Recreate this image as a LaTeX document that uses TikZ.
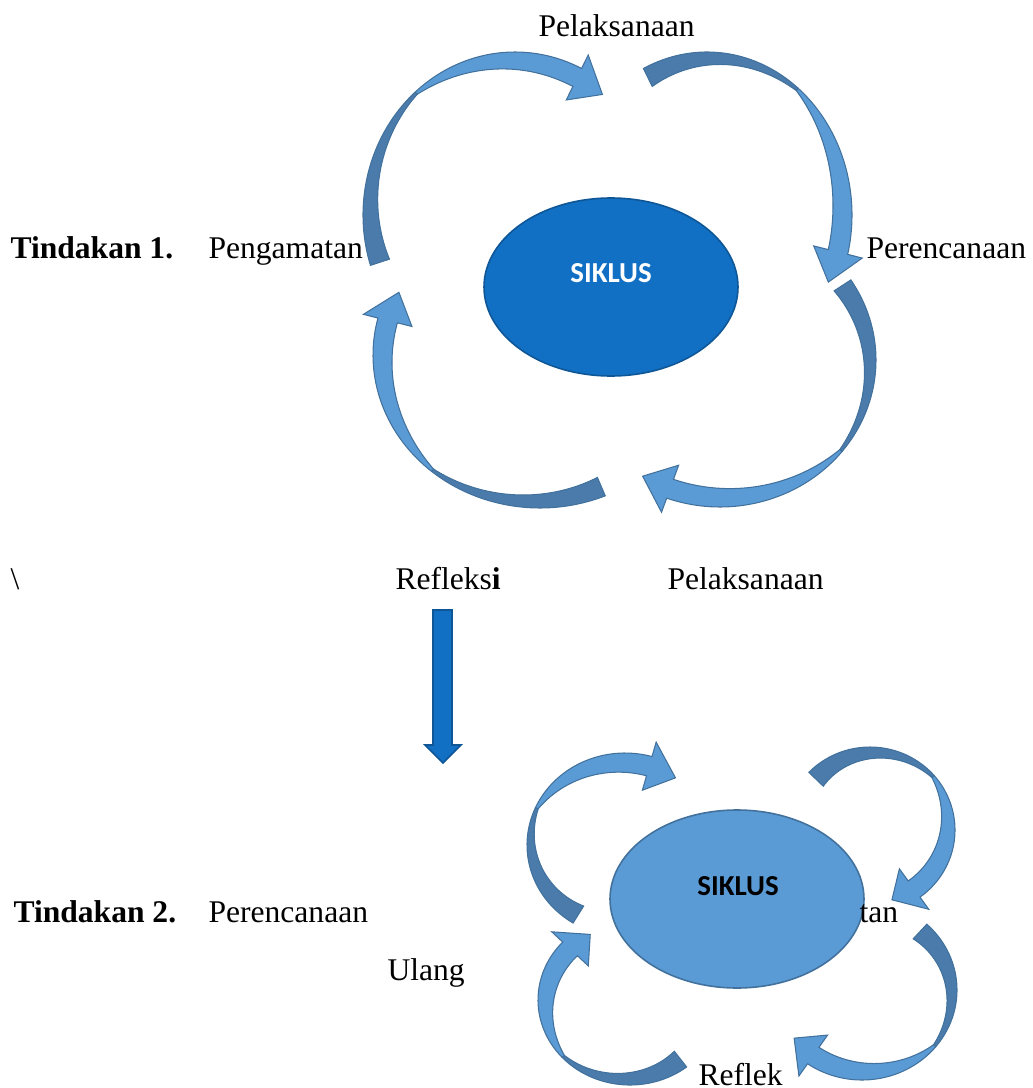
\documentclass[tikz,border=0pt]{standalone}
\usepackage{fontspec}
\setmainfont{Liberation Serif}
\newfontfamily\calibri{Carlito}
\definecolor{deepblue}{RGB}{17,112,196}
\definecolor{deepedge}{RGB}{14,86,150}
\definecolor{softblue}{RGB}{91,155,213}
\definecolor{shadeblue}{RGB}{74,123,171}
\definecolor{softedge}{RGB}{65,113,156}
\tikzset{
  lbl/.style={inner sep=0pt, anchor=base west, font=\fontsize{12}{14}\selectfont},
  darkband/.style={fill=shadeblue, draw=softedge, line width=0.4pt},
  lightband/.style={fill=softblue, draw=softedge, line width=0.4pt}
}
% band half width, pinch, head half width
\def\bw{10}\def\pw{3}\def\hw{25}
% #1,#2 centre, #3,#4 radii, #5 tail angle, #6 head angle, #7 tip angle
\newcommand{\curvarrow}[7]{%
  \pgfmathsetmacro{\angA}{#5}%
  \pgfmathsetmacro{\angB}{#6}%
  \pgfmathsetmacro{\angM}{(#5+#6)/2}%
  \filldraw[darkband] plot[domain=0:1, samples=40] ({#1+(#3+\bw)*cos(\angA+\x*(\angM-\angA))}, {#2+(#4+\bw)*sin(\angA+\x*(\angM-\angA))})
    -- plot[domain=0:1, samples=40] ({#1+(#3+\bw-\pw-(2*\bw-\pw)*\x)*cos(\angM-\x*(\angM-\angA))}, {#2+(#4+\bw-\pw-(2*\bw-\pw)*\x)*sin(\angM-\x*(\angM-\angA))})
    -- cycle;
  \filldraw[lightband] plot[domain=0:1, samples=40] ({#1+(#3+\bw)*cos(\angM+\x*(\angB-\angM))}, {#2+(#4+\bw)*sin(\angM+\x*(\angB-\angM))})
    -- ({#1+(#3+\hw)*cos(\angB)}, {#2+(#4+\hw)*sin(\angB)})
    -- ({#1+#3*cos(#7)}, {#2+#4*sin(#7)})
    -- ({#1+(#3-\hw)*cos(\angB)}, {#2+(#4-\hw)*sin(\angB)})
    -- plot[domain=0:1, samples=40] ({#1+(#3-\bw+(2*\bw-\pw)*\x*\x)*cos(\angB-\x*(\angB-\angM))}, {#2+(#4-\bw+(2*\bw-\pw)*\x*\x)*sin(\angB-\x*(\angB-\angM))})
    -- cycle;
}
\begin{document}
\begin{tikzpicture}[x=0.38pt, y=-0.38pt]
  \useasboundingbox (0,0) rectangle (1032,1088);
  % first cycle
  \node[lbl] (pelak1) at (538,37) {Pelaksanaan};
  \node[lbl] (tind1) at (10,258) {\bfseries Tindakan 1.};
  \node[lbl] (penga1) at (208,258) {Pengamatan};
  \node[lbl] (peren1) at (866,258) {Perencanaan};
  \filldraw[fill=deepblue, draw=deepedge, line width=0.6pt] (611,287) ellipse [x radius=127, y radius=89];
  \node[inner sep=0pt, text=white, font=\calibri\bfseries\fontsize{11}{13}\selectfont] (siklus1) at (611,273) {SIKLUS};
  \curvarrow{515}{215}{142}{153}{162}{296}{308}
  \curvarrow{707}{215}{135}{153}{244}{374}{386}
  \curvarrow{720}{360}{146}{137}{-33}{110}{122}
  \curvarrow{540}{355}{157}{143}{67}{194}{206}
  % between the cycles
  \node[lbl] (slash) at (10,589) {\textbackslash};
  \node[lbl] (refl1) at (395,589) {Refleks\textbf{i}};
  \node[lbl] (pelak2) at (667,589) {Pelaksanaan};
  \filldraw[fill=deepblue, draw=deepedge, line width=0.6pt] (433,610) -- (452,610) -- (452,745) -- (461,745) -- (443,763) -- (425,745) -- (433,745) -- cycle;
  % second cycle
  \node[lbl] (tind2) at (13,922) {\bfseries Tindakan 2.};
  \node[lbl] (peren2) at (208,922) {Perencanaan};
  \node[lbl] (ulang) at (387,980) {Ulang};
  \node[lbl] (refl2) at (698,1085) {Reflek};
  \filldraw[fill=softblue, draw=softedge, line width=0.6pt] (737,899) ellipse [x radius=127, y radius=89];
  \node[inner sep=0pt, font=\calibri\bfseries\fontsize{11}{13}\selectfont] (siklus2) at (738,886) {SIKLUS};
  \node[lbl] (penga2) at (859,922) {tan};
  \curvarrow{625}{845}{88}{82}{122}{286}{305}
  \curvarrow{870}{830}{75}{73}{224}{414}{433}
  \curvarrow{862}{990}{85}{80}{-47}{125}{143}
  \curvarrow{630}{1000}{82}{75}{52}{223}{241}
\end{tikzpicture}
\end{document}
